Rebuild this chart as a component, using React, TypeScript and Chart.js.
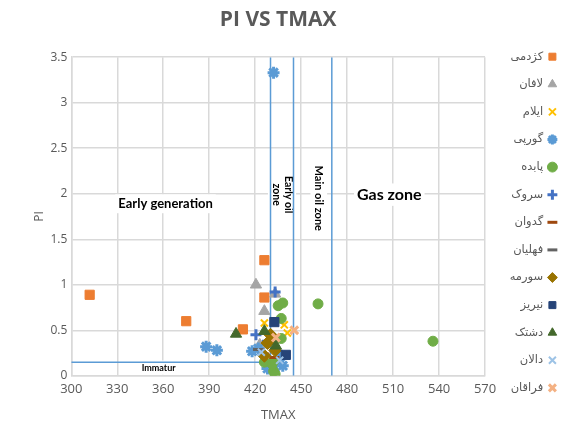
import React, { useEffect, useRef } from "react";
import { Chart, registerables } from "chart.js";

Chart.register(...registerables);

// ---- data ----
const seriesNames = [
  "کژدمی",
  "لافان",
  "ایلام",
  "گورپی",
  "پابده",
  "سروک",
  "گدوان",
  "فهلیان",
  "سورمه",
  "نیریز",
  "دشتک",
  "دالان",
  "فراقان",
];

const kazhdumiT = [312, 375, 412, 426, 426];
const kazhdumiPI = [0.89, 0.6, 0.51, 1.27, 0.86];
const laffanT = [420.5, 433, 426, 423];
const laffanPI = [1.0, 0.9, 0.71, 0.34];
const ilamT = [426, 439, 436, 441, 430];
const ilamPI = [0.58, 0.56, 0.6, 0.47, 0.4];
const gurpiT = [432, 388, 395, 418, 438, 428, 437, 422, 434];
const gurpiPI = [3.33, 0.32, 0.28, 0.27, 0.11, 0.08, 0.22, 0.3, 0.15];
const pabdehT = [461, 536, 435, 438, 437, 437, 426, 432, 432, 433, 431];
const pabdehPI = [0.79, 0.38, 0.77, 0.8, 0.63, 0.41, 0.15, 0.05, 0.16, 0.02, 0.13];
const sarvakT = [420.5, 433, 428];
const sarvakPI = [0.45, 0.92, 0.38];
const gadvanT = [432.5, 426];
const gadvanPI = [0.2, 0.24];
const fahliyanT = [422.5];
const fahliyanPI = [0.29];
const surmehT = [428, 426, 433, 430];
const surmehPI = [0.36, 0.22, 0.28, 0.45];
const neyrizT = [432.5, 440];
const neyrizPI = [0.59, 0.23];
const dashtakT = [407.5, 426, 433.5];
const dashtakPI = [0.46, 0.49, 0.33];
const dalanT = [424, 436];
const dalanPI = [0.26, 0.17];
const faraghanT = [445.5, 433.5];
const faraghanPI = [0.5, 0.42];

const seriesT = [kazhdumiT, laffanT, ilamT, gurpiT, pabdehT, sarvakT, gadvanT, fahliyanT, surmehT, neyrizT, dashtakT, dalanT, faraghanT];
const seriesPI = [kazhdumiPI, laffanPI, ilamPI, gurpiPI, pabdehPI, sarvakPI, gadvanPI, fahliyanPI, surmehPI, neyrizPI, dashtakPI, dalanPI, faraghanPI];

// zone boundaries
const immatureTmax = 430;
const earlyOilTmax = 445;
const mainOilTmax = 470;
const immaturePI = 0.15;

const xTickMin = 300;
const xTickMax = 570;
const xTickStep = 30;
const yTickMin = 0;
const yTickMax = 3.5;
const yTickStep = 0.5;

// zone labels: text lines, data position
const zoneLabelLines = [["Early generation"], ["Early oil", "zone"], ["Main oil zone"], ["Gas zone"], ["Immatur"]];
const zoneLabelT = [361.5, 437.5, 461.5, 507.5, 357];
const zoneLabelPI = [1.89, 1.99, 1.95, 1.99, 0.09];

// ---- styles ----
const seriesColors = ["#ED7D31", "#A5A5A5", "#FFC000", "#5B9BD5", "#70AD47", "#4472C4", "#9E480E", "#636363", "#997300", "#264478", "#43682B", "#9DC3E6", "#F4B183"];
const seriesStyles = ["rect", "triangle", "crossRot", "star", "circle", "cross", "line", "line", "rectRot", "rect", "triangle", "crossRot", "crossRot"];
const seriesRadius = [6.5, 6.5, 5, 6, 5, 5.5, 5, 6, 6.5, 6.5, 6.5, 5, 5.5];
const seriesBorder = [1, 1, 2, 3, 1, 3, 3, 3, 1, 1, 1, 2, 3];
const labelFonts = [
  { size: 13, weight: "bold" },
  { size: 10.5, weight: "bold" },
  { size: 11, weight: "bold" },
  { size: 16, weight: "bold" },
  { size: 9, weight: "bold" },
];
const labelRot = [0, Math.PI / 2, Math.PI / 2, 0, 0];
const legendPad = "\u00A0\u00A0\u00A0\u00A0";

const zoneLabelsPlugin = {
  id: "zoneLabels",
  beforeDatasetsDraw(chart: any) {
    const { ctx, scales } = chart;
    const x = scales.x;
    const y = scales.y;
    ctx.save();
    zoneLabelLines.forEach((lines, i) => {
      const px = x.getPixelForValue(zoneLabelT[i]);
      const py = y.getPixelForValue(zoneLabelPI[i]);
      const f = labelFonts[i];
      ctx.save();
      ctx.translate(px, py);
      ctx.rotate(labelRot[i]);
      ctx.font = `${f.weight} ${f.size}px Lato, "Open Sans", sans-serif`;
      const lh = f.size * 1.15;
      const w = Math.max(...lines.map((l) => ctx.measureText(l).width));
      const h = lh * lines.length;
      ctx.fillStyle = "#ffffff";
      ctx.fillRect(-w / 2 - 3, -h / 2 - 2, w + 6, h + 4);
      ctx.fillStyle = "#000000";
      ctx.textAlign = "center";
      ctx.textBaseline = "middle";
      lines.forEach((l, j) => {
        ctx.fillText(l, 0, -h / 2 + lh * (j + 0.5));
      });
      ctx.restore();
    });
    ctx.restore();
  },
};

export default function App() {
  const ref = useRef<HTMLCanvasElement | null>(null);

  useEffect(() => {
    if (!ref.current) return;
    const pointSets = seriesNames.map((name, i) => ({
      label: name,
      data: seriesT[i].map((t, k) => ({ x: t, y: seriesPI[i][k] })),
      pointStyle: seriesStyles[i],
      pointRadius: seriesRadius[i],
      pointBorderWidth: seriesBorder[i],
      backgroundColor: seriesColors[i],
      borderColor: seriesColors[i],
      showLine: false,
      order: -i,
    }));
    const lineStyle = {
      borderColor: "#5B9BD5",
      borderWidth: 1.5,
      pointRadius: 0,
      showLine: true,
      order: 10,
    };
    const zoneSets = [
      { label: "_z1", data: [{ x: immatureTmax, y: yTickMin }, { x: immatureTmax, y: yTickMax }], ...lineStyle },
      { label: "_z2", data: [{ x: earlyOilTmax, y: yTickMin }, { x: earlyOilTmax, y: yTickMax }], ...lineStyle },
      { label: "_z3", data: [{ x: mainOilTmax, y: yTickMin }, { x: mainOilTmax, y: yTickMax }], ...lineStyle },
      { label: "_z4", data: [{ x: xTickMin, y: immaturePI }, { x: immatureTmax, y: immaturePI }], ...lineStyle },
    ];

    const defaultLabels = Chart.defaults.plugins.legend.labels.generateLabels;

    const chart = new Chart(ref.current, {
      type: "scatter",
      data: { datasets: [...pointSets, ...zoneSets] as any },
      options: {
        animation: false,
        responsive: false,
        events: [],
        layout: { padding: { left: 32, right: -6, top: 0, bottom: 0 } },
        scales: {
          x: {
            type: "linear",
            min: xTickMin,
            max: xTickMax,
            ticks: { stepSize: xTickStep, color: "#595959", font: { family: "Open Sans", size: 13 }, padding: 6 },
            grid: { color: "#D9D9D9", lineWidth: 1.5, drawTicks: false },
            border: { color: "#D9D9D9", width: 1.5 },
            title: { display: true, text: "TMAX", color: "#595959", font: { family: "Open Sans", size: 13 }, padding: { top: 4, bottom: 0 } },
          },
          y: {
            type: "linear",
            min: yTickMin,
            max: yTickMax,
            ticks: {
              stepSize: yTickStep,
              color: "#595959",
              font: { family: "Open Sans", size: 12 },
              padding: 4,
              callback: (v: any) => String(Number(v)),
            },
            grid: { color: "#D9D9D9", lineWidth: 1.5, drawTicks: false },
            border: { color: "#D9D9D9", width: 1.5 },
            title: { display: true, text: "PI", color: "#595959", font: { family: "Open Sans", size: 12 }, padding: { top: 0, bottom: 0 } },
          },
        },
        plugins: {
          title: {
            display: true,
            text: "PI VS TMAX",
            color: "#595959",
            font: { family: "Open Sans", size: 21, weight: "bold" },
            padding: { top: 7, bottom: 25 },
            fullSize: false,
          },
          legend: {
            position: "right",
            rtl: true,
            textDirection: "rtl",
            title: { display: true, text: " ", font: { size: 18 }, padding: 0 },
            labels: {
              usePointStyle: true,
              boxWidth: 7,
              boxHeight: 7,
              padding: 16.1,
              color: "#595959",
              font: { family: "DejaVu Sans", size: 11.5 },
              generateLabels: (c: any) =>
                defaultLabels(c).map((l: any) => ({ ...l, text: l.text + legendPad })),
              filter: (item: any) => item.datasetIndex < seriesNames.length,
              sort: (a: any, b: any) => a.datasetIndex - b.datasetIndex,
            },
          },
          tooltip: { enabled: false },
        },
      },
      plugins: [zoneLabelsPlugin],
    } as any);
    return () => chart.destroy();
  }, []);

  return (
    <div style={{ position: "fixed", left: 0, top: 0, width: 566, height: 423, background: "#fff" }}>
      <canvas ref={ref} width={566} height={423} style={{ width: 566, height: 423 }} />
    </div>
  );
}
